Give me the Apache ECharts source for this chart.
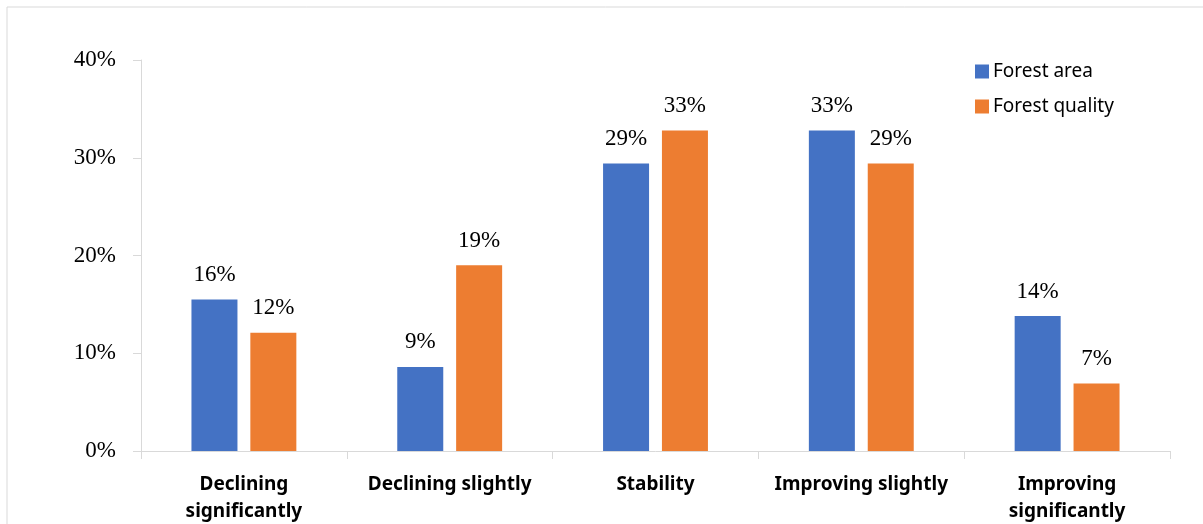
<!DOCTYPE html>
<html>
<head>
<meta charset="utf-8">
<script src="https://cdn.jsdelivr.net/npm/echarts@6/dist/echarts.min.js"></script>
<style>
  html, body { margin: 0; padding: 0; background: #fff; }
  #chart { width: 1203px; height: 524px; }
</style>
</head>
<body>
<div id="chart"></div>
<script>
var categories = ['Declining\nsignificantly', 'Declining slightly', 'Stability', 'Improving slightly', 'Improving\nsignificantly'];
var forestArea = [15.5, 8.6, 29.4, 32.8, 13.8];
var forestQuality = [12.1, 19.0, 32.8, 29.4, 6.9];
var yTicks = [0, 10, 20, 30, 40];

var chart = echarts.init(document.getElementById('chart'));

function barLabel() {
  return {
    show: true,
    position: 'top',
    distance: 13,
    fontFamily: 'Liberation Serif',
    fontSize: 23,
    color: '#000',
    formatter: function (p) { return Math.round(p.value) + '%'; }
  };
}

chart.setOption({
  animation: false,
  graphic: [{
    type: 'rect',
    shape: { x: 7, y: 7, width: 1220, height: 540 },
    style: { fill: 'none', stroke: '#d9d9d9', lineWidth: 1 },
    silent: true
  }],
  grid: { left: 141, right: 33, top: 60, bottom: 73, outerBoundsMode: 'none' },
  legend: {
    orient: 'vertical',
    left: 970,
    top: 57,
    itemWidth: 14,
    itemHeight: 14,
    itemGap: 16,
    icon: 'rect',
    textStyle: { fontFamily: 'Noto Sans', fontSize: 19, color: '#000', padding: [0, 0, 0, -1] },
    data: ['Forest area', 'Forest quality']
  },
  xAxis: {
    type: 'category',
    data: categories,
    axisLine: { lineStyle: { color: '#d9d9d9', width: 1 } },
    axisTick: { show: true, length: 8, lineStyle: { color: '#d9d9d9' } },
    axisLabel: {
      margin: 20,
      fontFamily: 'Noto Sans',
      fontWeight: 'bold',
      fontSize: 19,
      lineHeight: 27,
      color: '#000',
      interval: 0
    }
  },
  yAxis: {
    type: 'value',
    min: yTicks[0],
    max: yTicks[yTicks.length - 1],
    interval: 10,
    axisLine: { show: true, lineStyle: { color: '#d9d9d9', width: 1 } },
    axisTick: { show: true, length: 8, lineStyle: { color: '#d9d9d9' } },
    splitLine: { show: false },
    axisLabel: {
      margin: 25,
      fontFamily: 'Liberation Serif',
      fontSize: 23,
      color: '#000',
      formatter: '{value}%'
    }
  },
  series: [
    {
      name: 'Forest area',
      type: 'bar',
      data: forestArea,
      barWidth: 46,
      barGap: '28%',
      itemStyle: { color: '#4472C4' },
      label: barLabel()
    },
    {
      name: 'Forest quality',
      type: 'bar',
      data: forestQuality,
      barWidth: 46,
      itemStyle: { color: '#ED7D31' },
      label: barLabel()
    }
  ]
});
</script>
</body>
</html>
